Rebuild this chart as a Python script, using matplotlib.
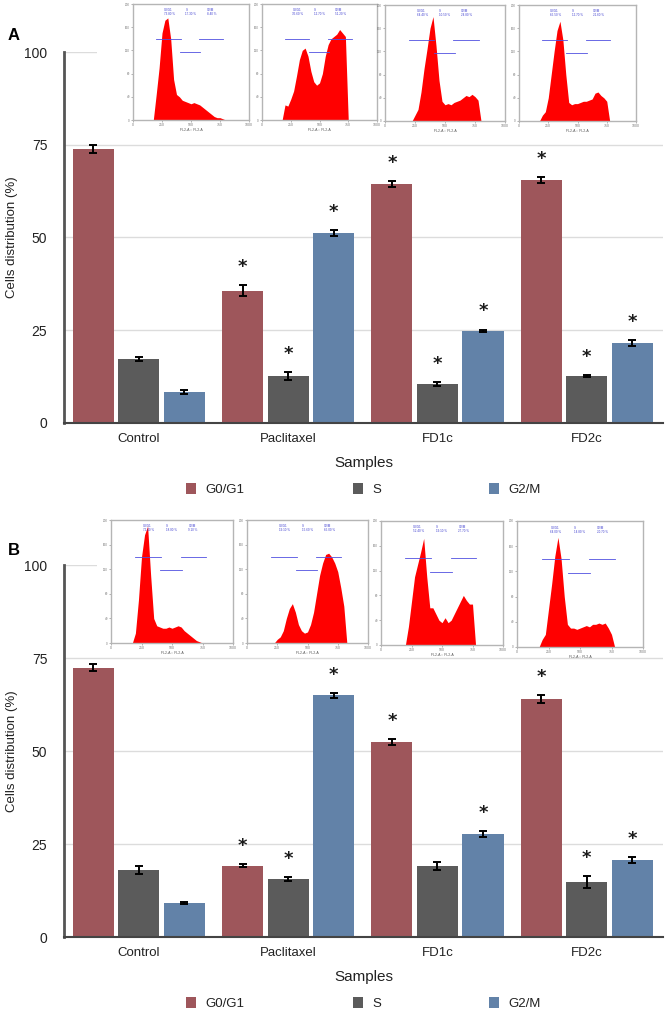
import numpy as np
import matplotlib
matplotlib.use("Agg")
import matplotlib.pyplot as plt
from matplotlib.patches import Patch, Rectangle

plt.rcParams['font.family'] = ['Liberation Sans', 'DejaVu Sans']

W, H = 666, 1013

samples = ["Control", "Paclitaxel", "FD1c", "FD2c"]
phases = ["G0/G1", "S", "G2/M"]
colors = ["#9e565b", "#5b5b5b", "#6282a8"]

# Panel A values (%), errors, significance stars
a_g0 = [73.8, 35.6, 64.4, 65.5]
a_s = [17.3, 12.7, 10.5, 12.7]
a_g2 = [8.4, 51.2, 24.8, 21.6]
a_g0_err = [1.0, 1.5, 0.9, 0.8]
a_s_err = [0.6, 1.0, 0.6, 0.2]
a_g2_err = [0.5, 0.8, 0.4, 0.8]
a_g0_star = [0, 1, 1, 1]
a_s_star = [0, 1, 1, 1]
a_g2_star = [0, 1, 1, 1]

# Panel B
b_g0 = [72.4, 19.1, 52.4, 64.0]
b_s = [18.0, 15.6, 19.1, 14.8]
b_g2 = [9.1, 65.0, 27.7, 20.7]
b_g0_err = [1.0, 0.4, 0.8, 1.0]
b_s_err = [1.0, 0.5, 1.0, 1.5]
b_g2_err = [0.3, 0.7, 0.8, 0.9]
b_g0_star = [0, 1, 1, 1]
b_s_star = [0, 1, 0, 1]
b_g2_star = [0, 1, 1, 1]

# Inset histograms (FL2-A channel vs relative counts)
hist_x = [150, 175, 200, 225, 250, 275, 300, 325, 350, 375, 400, 425, 450, 475,
          500, 525, 550, 575, 600, 625, 650, 675, 700, 725, 750, 775, 800, 825]
hA1 = [0, 0, 0.22, 0.45, 0.75, 0.86, 0.88, 0.70, 0.35, 0.22, 0.20, 0.17, 0.16, 0.15,
       0.14, 0.15, 0.14, 0.13, 0.11, 0.09, 0.07, 0.05, 0.03, 0.02, 0.02, 0.01, 0, 0]
hA2 = [0, 0, 0.13, 0.12, 0.18, 0.25, 0.38, 0.52, 0.60, 0.62, 0.55, 0.42, 0.33, 0.30,
       0.32, 0.40, 0.55, 0.65, 0.70, 0.72, 0.74, 0.78, 0.75, 0.72, 0, 0, 0, 0]
hA3 = [0, 0, 0, 0, 0.05, 0.10, 0.25, 0.45, 0.62, 0.80, 0.90, 0.65, 0.35, 0.17,
       0.14, 0.15, 0.14, 0.16, 0.17, 0.18, 0.20, 0.22, 0.21, 0.23, 0.21, 0.18, 0, 0]
hA4 = [0, 0, 0.05, 0.08, 0.20, 0.40, 0.60, 0.78, 0.86, 0.70, 0.40, 0.16, 0.14, 0.15,
       0.15, 0.16, 0.17, 0.17, 0.18, 0.19, 0.24, 0.25, 0.22, 0.20, 0.17, 0, 0, 0]
hB1 = [0, 0, 0.08, 0.35, 0.70, 0.88, 0.95, 0.55, 0.20, 0.14, 0.13, 0.12, 0.12, 0.13,
       0.12, 0.13, 0.14, 0.13, 0.10, 0.08, 0.06, 0.04, 0.02, 0.01, 0, 0, 0, 0]
hB2 = [0, 0, 0, 0, 0.03, 0.05, 0.10, 0.20, 0.28, 0.32, 0.25, 0.15, 0.10, 0.08,
       0.09, 0.15, 0.25, 0.40, 0.55, 0.65, 0.72, 0.73, 0.70, 0.65, 0.58, 0.45, 0.30, 0]
hB3 = [0, 0, 0, 0.15, 0.35, 0.55, 0.65, 0.75, 0.86, 0.55, 0.30, 0.30, 0.25, 0.20,
       0.18, 0.22, 0.18, 0.20, 0.25, 0.30, 0.35, 0.40, 0.36, 0.33, 0.33, 0, 0, 0]
hB4 = [0, 0, 0.06, 0.10, 0.30, 0.50, 0.72, 0.87, 0.70, 0.40, 0.18, 0.15, 0.15, 0.14,
       0.15, 0.16, 0.17, 0.16, 0.18, 0.18, 0.19, 0.18, 0.19, 0.15, 0.10, 0, 0, 0]
gate_x = [(200, 410), (405, 580), (570, 780)]
gate_y = [0.70, 0.59, 0.70]

fig = plt.figure(figsize=(W / 100, H / 100), dpi=100)


def px_axes(x0, y0, x1, y1):
    return fig.add_axes([x0 / W, 1 - y1 / H, (x1 - x0) / W, (y1 - y0) / H])


def draw_panel(ax, vals, errs, stars):
    x = np.arange(len(samples))
    off = 0.305
    bw = 0.275
    for i, (v, e, s) in enumerate(zip(vals, errs, stars)):
        xi = x + (i - 1) * off
        ax.bar(xi, v, bw, color=colors[i], label=phases[i], zorder=2)
        ax.errorbar(xi, v, yerr=e, fmt='none', ecolor='black', elinewidth=1.4,
                    capsize=3.2, capthick=1.4, zorder=3)
        for xx, vv, ee, ss in zip(xi, v, e, s):
            if ss:
                ax.annotate('*', (xx, vv + ee), xytext=(0, 13), textcoords='offset points',
                            ha='center', va='center', fontsize=13, color='#1a1a1a',
                            family='DejaVu Sans', fontweight='bold')
    ax.set_xlim(-0.5, 3.51)
    ax.set_ylim(0, 100)
    ax.set_yticks([0, 25, 50, 75, 100])
    ax.set_xticks(x)
    ax.set_xticklabels(samples, fontsize=9.5, color='#222222')
    ax.tick_params(axis='both', length=0)
    ax.tick_params(axis='y', pad=12, labelsize=10, labelcolor='#222222')
    ax.tick_params(axis='x', pad=7)
    for sp in ['top', 'right']:
        ax.spines[sp].set_visible(False)
    ax.spines['left'].set_color('#555555')
    ax.spines['left'].set_linewidth(2)
    ax.spines['bottom'].set_color('#444444')
    ax.spines['bottom'].set_linewidth(1.5)
    ax.yaxis.grid(True, color='#dcdcdc', lw=1, zorder=0)
    ax.set_axisbelow(True)
    ax.set_ylabel('Cells distribution (%)', fontsize=9.5, color='#222222')
    ax.yaxis.set_label_coords(-0.076, 0.5)
    ax.set_xlabel('Samples', fontsize=11, color='#222222', labelpad=8)
    # white backdrop of the inset image (covers the 100 gridline)
    ax.add_patch(Rectangle((0.055, 0.92), 0.96, 0.2, transform=ax.transAxes,
                           facecolor='white', edgecolor='none', zorder=1, clip_on=False))
    handles = [Patch(facecolor=c, edgecolor='none') for c in colors]
    ax.legend(handles, phases, loc='center', bbox_to_anchor=(0.5, -0.18), ncol=3,
              frameon=False, fontsize=9.5, handlelength=0.75, handleheight=0.9,
              handletextpad=0.7, columnspacing=8.2, labelcolor='#222222')


def draw_inset(box, h, pcts):
    ax = px_axes(*box)
    xs = np.array(hist_x)
    ax.fill_between(xs, h, color='#ff0000', lw=0)
    ax.set_xlim(0, 1000)
    ax.set_ylim(0, 1.0)
    ax.set_xticks([0, 250, 500, 750, 1000])
    ax.set_xticklabels(['0', '250', '500', '750', '1000'], fontsize=2.5, color='#555555')
    ax.set_yticks([0, 0.2, 0.4, 0.6, 0.8, 1.0])
    ax.set_yticklabels(['0', '40', '80', '120', '160', '200'], fontsize=2.2, color='#555555')
    ax.tick_params(length=1.2, width=0.4, pad=1, colors='#777777')
    ax.set_xlabel('FL2-A :: FL2-A', fontsize=2.5, labelpad=1, color='#555555')
    for sp in ax.spines.values():
        sp.set_color('#b5b5b5')
        sp.set_linewidth(1.0)
    for (g0, g1), gy, name, p in zip(gate_x, gate_y, phases, pcts):
        ax.plot([g0, g1], [gy, gy], color='#5050e0', lw=0.6)
        ax.text((g0 + g1) / 2 - 40, 0.9, f'{name}\n{p:.2f} %', fontsize=2.2,
                color='#4040d0', ha='left', va='bottom', linespacing=1.0)


axA = px_axes(64, 52, 663, 423)
draw_panel(axA, [a_g0, a_s, a_g2], [a_g0_err, a_s_err, a_g2_err],
           [a_g0_star, a_s_star, a_g2_star])
axB = px_axes(64, 565, 663, 937)
draw_panel(axB, [b_g0, b_s, b_g2], [b_g0_err, b_s_err, b_g2_err],
           [b_g0_star, b_s_star, b_g2_star])

fig.text(8 / W, 1 - 36 / H, 'A', fontsize=12, fontweight='bold', va='center')
fig.text(8 / W, 1 - 550 / H, 'B', fontsize=12, fontweight='bold', va='center')

boxesA = [(133, 4, 249, 120), (262, 4, 377, 120), (385, 5, 505, 121), (519, 5, 636, 121)]
boxesB = [(111, 520, 233, 643), (247, 520, 368, 643), (381, 521, 503, 645), (517, 521, 643, 647)]
histA = [hA1, hA2, hA3, hA4]
histB = [hB1, hB2, hB3, hB4]
for k in range(4):
    draw_inset(boxesA[k], histA[k], [a_g0[k], a_s[k], a_g2[k]])
    draw_inset(boxesB[k], histB[k], [b_g0[k], b_s[k], b_g2[k]])

fig.savefig('out.png', dpi=100)
